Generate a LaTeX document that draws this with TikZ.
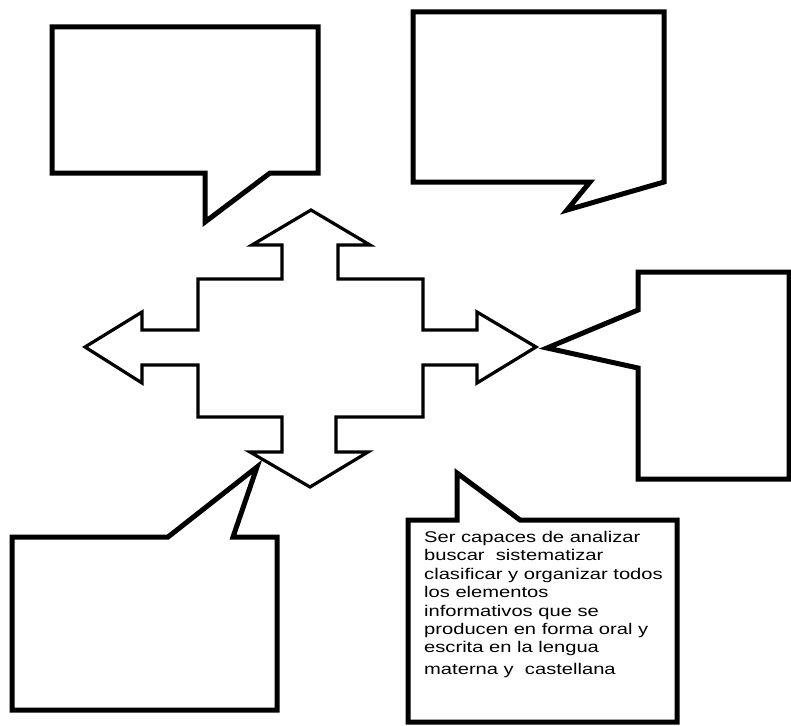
\documentclass[tikz,border=0pt]{standalone}
\usepackage{fontspec}
\newfontfamily\boxfont[FakeStretch=1.3]{Liberation Sans}
\begin{document}
\begin{tikzpicture}[x=1pt,y=-1pt,
  callout/.style={draw=black,line width=5pt,fill=white,line join=miter},
  cross/.style={draw=black,line width=3.2pt,fill=white,line join=miter},
  boxtext/.style={anchor=north west,align=left,inner sep=0pt,
    font=\boxfont\fontsize{15.5}{18.4}\selectfont}]
\useasboundingbox (0,0) rectangle (791,725);
% top-left callout
\draw[callout] (52,27) -- (318,27) -- (318,173) -- (270,173) -- (205,222) -- (205,173) -- (52,173) -- cycle;
% top-right callout
\draw[callout] (413,12) -- (664,12) -- (664,182) -- (567,210) -- (590,182) -- (413,182) -- cycle;
% right callout
\draw[callout] (638,272) -- (789,272) -- (789,479) -- (638,479) -- (638,368) -- (547,348) -- (638,310) -- cycle;
% bottom-left callout
\draw[callout] (12,537) -- (168,537) -- (257,467) -- (233,537) -- (277,537) -- (277,710) -- (12,710) -- cycle;
% bottom-right callout
\draw[callout] (408,520) -- (457,520) -- (457,473) -- (520,520) -- (677,520) -- (677,722) -- (408,722) -- cycle;
% four-way arrow
\draw[cross] (311,210) -- (370,245) -- (338,245) -- (338,279) -- (423,279) -- (423,330)
  -- (477,330) -- (477,312) -- (536,347) -- (477,383) -- (477,365) -- (423,365)
  -- (423,417) -- (336,417) -- (336,452) -- (368,452) -- (310,487) -- (250,452)
  -- (282,452) -- (282,417) -- (198,417) -- (198,365) -- (142,365) -- (142,383)
  -- (85,347) -- (142,312) -- (142,330) -- (198,330) -- (198,279) -- (282,279)
  -- (282,245) -- (252,245) -- cycle;
\node[boxtext] (txt) at (424,531) {Ser capaces de analizar\\
buscar\ \ sistematizar\\
clasificar y organizar todos\\
los elementos\\
informativos que se\\
producen en forma oral y\\
escrita en la lengua\\[3pt]
materna y\ \ castellana};
\end{tikzpicture}
\end{document}
